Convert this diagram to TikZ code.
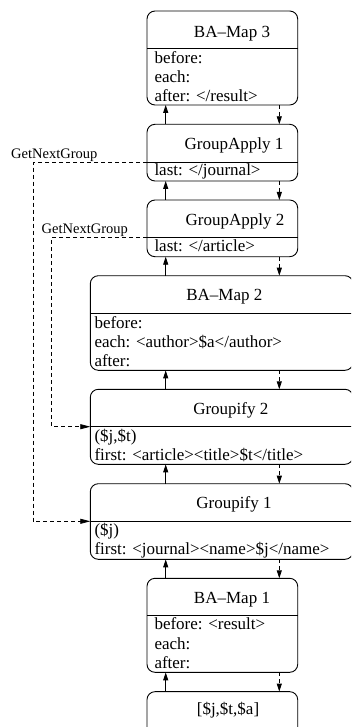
\documentclass[tikz,border=0pt]{standalone}
\usepackage{fontspec}
\setmainfont{Liberation Serif}
\usetikzlibrary{arrows.meta}
\begin{document}
\begin{tikzpicture}[x=1pt,y=-1pt,
 box/.style={draw, rounded corners=8pt, line width=0.9pt, outer sep=0pt, inner sep=0pt},
 divl/.style={line width=0.9pt},
 ttl/.style={anchor=base, inner sep=0pt, font=\fontsize{17}{19}\selectfont},
 txt/.style={anchor=base west, inner sep=0pt, font=\fontsize{17}{19}\selectfont},
 lbl/.style={anchor=base west, inner sep=0pt, font=\fontsize{14.5}{16}\selectfont},
 upflow/.style={line width=0.9pt, -{Triangle[length=8pt,width=5pt]}},
 dnflow/.style={line width=0.9pt, dash pattern=on 4pt off 3pt, -{Triangle[length=8pt,width=5pt]}},
 grp/.style={line width=0.8pt, dash pattern=on 4pt off 3pt, -{Triangle[length=10pt,width=5pt]}},
]
\useasboundingbox (0,0) rectangle (351,727);
\clip (0,0) rectangle (351,727);

% boxes
\node[box, minimum width=150.7pt, minimum height=94pt] (bm3) at (222.35,58) {};
\node[box, minimum width=150.7pt, minimum height=56.7pt] (ga1) at (222.35,152.65) {};
\node[box, minimum width=150.7pt, minimum height=56.7pt] (ga2) at (222.35,228.35) {};
\node[box, minimum width=262.7pt, minimum height=94.6pt] (bm2) at (221.65,323) {};
\node[box, minimum width=262.7pt, minimum height=75pt] (gf2) at (221.65,426.8) {};
\node[box, minimum width=262.7pt, minimum height=75.6pt] (gf1) at (221.65,521.5) {};
\node[box, minimum width=150.7pt, minimum height=94pt] (bm1) at (222.35,625.3) {};
\node[box, minimum width=150.7pt, minimum height=56.7pt] (src) at (222.35,720) {};

% dividers
\draw[divl] ([yshift=-37.7pt]bm3.north west) -- ([yshift=-37.7pt]bm3.north east);
\draw[divl] ([yshift=-38.4pt]ga1.north west) -- ([yshift=-38.4pt]ga1.north east);
\draw[divl] ([yshift=-37.7pt]ga2.north west) -- ([yshift=-37.7pt]ga2.north east);
\draw[divl] ([yshift=-37.6pt]bm2.north west) -- ([yshift=-37.6pt]bm2.north east);
\draw[divl] ([yshift=-37.4pt]gf2.north west) -- ([yshift=-37.4pt]gf2.north east);
\draw[divl] ([yshift=-37.6pt]gf1.north west) -- ([yshift=-37.6pt]gf1.north east);
\draw[divl] ([yshift=-37.4pt]bm1.north west) -- ([yshift=-37.4pt]bm1.north east);

% texts
\node[ttl] (t1) at (232,38) {BA–Map 3};
\node[txt] (t1a) at (154.3,64) {before:};
\node[txt] (t1b) at (154.3,82.7) {each:};
\node[txt] (t1c) at (154.3,101.3) {after: </result>};

\node[ttl] (t2) at (234,150) {GroupApply 1};
\node[txt] (t2a) at (154.3,175.7) {last: </journal>};

\node[ttl] (t3) at (235,225.7) {GroupApply 2};
\node[txt] (t3a) at (154.3,251.7) {last: </article>};

\node[ttl] (t4) at (224.3,300.7) {BA–Map 2};
\node[txt] (t4a) at (94.3,328.3) {before:};
\node[txt] (t4b) at (94.3,347.3) {each: <author>\$a</author>};
\node[txt] (t4c) at (94.3,366) {after:};

\node[ttl] (t5) at (230.8,414.7) {Groupify 2};
\node[txt] (t5a) at (94.3,441.3) {(\$j,\$t)};
\node[txt] (t5b) at (94.3,460) {first: <article><title>\$t</title>};

\node[ttl] (t6) at (234,508.3) {Groupify 1};
\node[txt] (t6a) at (94.3,535.7) {(\$j)};
\node[txt] (t6b) at (94.3,554) {first: <journal><name>\$j</name>};

\node[ttl] (t7) at (232,603.3) {BA–Map 1};
\node[txt] (t7a) at (154.3,629) {before: <result>};
\node[txt] (t7b) at (154.3,649) {each:};
\node[txt] (t7c) at (154.3,668) {after:};

\node[ttl] (t8) at (228,714) {[\$j,\$t,\$a]};

% vertical flows
\coordinate (upx) at (165.7,0);
\coordinate (dnx) at (279.3,0);
\foreach \u/\l in {bm3/ga1, ga1/ga2, ga2/bm2, bm2/gf2, gf2/gf1, gf1/bm1, bm1/src}{
  \draw[upflow] (\l.north -| upx) -- (\u.south -| upx);
  \draw[dnflow] (\u.south -| dnx) -- (\l.north -| dnx);
}

% GetNextGroup connectors
\coordinate (gx1) at (33,0);
\coordinate (gx2) at (51.7,0);
\coordinate (ga1d) at ([yshift=-38.4pt]ga1.north west);
\coordinate (ga2d) at ([yshift=-37.7pt]ga2.north west);
\coordinate (gf1d) at ([yshift=-37.6pt]gf1.north west);
\coordinate (gf2d) at ([yshift=-37.4pt]gf2.north west);
\draw[grp] (ga1d) -- (ga1d -| gx1) -- (gx1 |- gf1d) -- (gf1d);
\draw[grp] (ga2d) -- (ga2d -| gx2) -- (gx2 |- gf2d) -- (gf2d);
\node[lbl] (l1) at (11,158.3) {GetNextGroup};
\node[lbl] (l2) at (41.5,233.3) {GetNextGroup};
\end{tikzpicture}
\end{document}
